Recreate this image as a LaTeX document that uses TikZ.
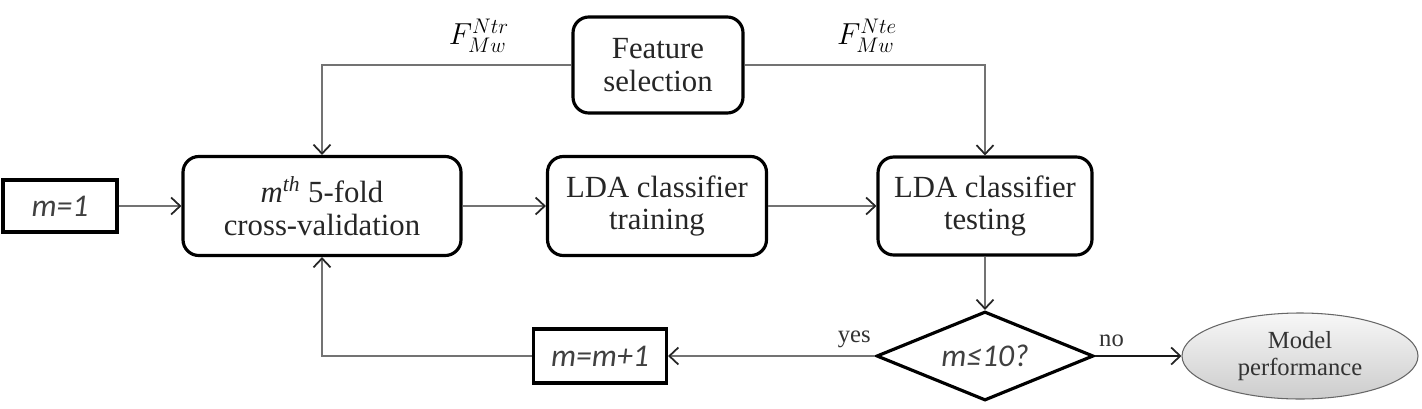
\documentclass[tikz,border=0pt]{standalone}
\usepackage{fontspec}
\setmainfont{Liberation Serif}
\newfontfamily\calfont{Carlito}
\usetikzlibrary{arrows.meta}
\usetikzlibrary{shapes.geometric}

\tikzset{
	stage/.style= {draw, line width= 1.8pt, rounded corners= 9pt, align= center, inner sep= 0pt, text= black!85, font= \fontsize{17.5}{18.5}\selectfont},
	counter/.style= {draw, line width= 1.8pt, inner sep= 0pt, text= black!75, font= \calfont\itshape\fontsize{18}{20}\selectfont},
	link/.style= {draw= black!55, line width= 0.9pt, arrows= {-Straight Barb[length= 1.8mm, width= 3.4mm, line width= 1pt, color= black!85]}},
	answer/.style= {text= black!80, font= \fontsize{14}{16}\selectfont},
	feats/.style= {font= \fontsize{17}{19}\selectfont},
}

\begin{document}
\begin{tikzpicture}
	\useasboundingbox (0,0) rectangle (28.44,8.16);

	% boxes of the upper row
	\node [stage, minimum width= 3.4cm, minimum height= 1.92cm] (feat) at (13.16,6.86) {Feature\\selection};
	\node [stage, minimum width= 5.56cm, minimum height= 1.98cm] (cv) at (6.44,4.04) {{\itshape m}\textsuperscript{\itshape th}~5-fold\\cross-validation};
	\node [stage, minimum width= 4.38cm, minimum height= 1.98cm] (train) at (13.14,4.04) {LDA classifier\\training};
	\node [stage, minimum width= 4.28cm, minimum height= 1.96cm] (test) at (19.70,4.04) {LDA classifier\\testing};
	\node [counter, minimum width= 2.28cm, minimum height= 1.04cm] (init) at (1.2,4.04) {m=1};

	% loop and end
	\node [counter, minimum width= 2.66cm, minimum height= 1.08cm] (incr) at (12.0,1.04) {m=m+1};
	\node [draw, diamond, line width= 1.8pt, inner sep= 0pt, aspect= 2.44, minimum width= 4.34cm, minimum height= 1.78cm, text= black!75, font= \calfont\itshape\fontsize{18}{20}\selectfont] (decide) at (19.70,1.04) {m≤10?};
	\node [ellipse, draw= black!60, line width= 0.6pt, top color= black!3, bottom color= black!20, minimum width= 4.72cm, minimum height= 1.72cm, inner sep= 0pt, align= center, text= black!80, font= \fontsize{14}{15}\selectfont] (perf) at (26.0,1.04) {Model\\performance};

	% selected features
	\node [feats] (ftr) at (9.58,7.44) {$F^{Ntr}_{Mw}$};
	\node [feats] (fte) at (17.34,7.44) {$F^{Nte}_{Mw}$};

	% connectors
	\draw [link] (feat.west) -| (cv.north);
	\draw [link] (feat.east) -| (test.north);
	\draw [link] (init) -- (cv);
	\draw [link] (cv) -- (train);
	\draw [link] (train) -- (test);
	\draw [link] (test) -- (decide);
	\draw [link] (decide.west) -- node [answer, pos= 0.1, above= 1pt] {yes} (incr.east);
	\draw [link] (incr.west) -| (cv.south);
	\draw [link, draw= black!90, line width= 1.6pt] (decide.east) -- node [answer, pos= 0.19, above= 1pt] {no} (perf.west);
\end{tikzpicture}
\end{document}
